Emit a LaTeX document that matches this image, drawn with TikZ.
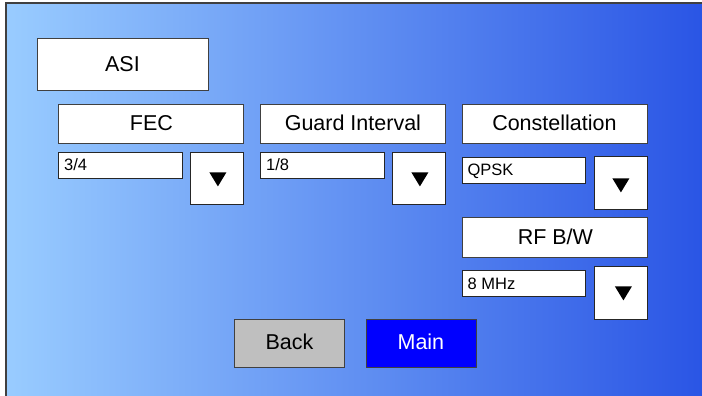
\documentclass[tikz,border=0pt]{standalone}
\usepackage{fontspec}
\setmainfont{Liberation Sans}
\definecolor{gradL}{HTML}{99CCFF}
\definecolor{gradR}{HTML}{2A55E5}
\definecolor{edge}{HTML}{404040}
\tikzset{
 x=1pt,y=-1pt,
 panel/.style={draw=edge,line width=1pt,fill=white},
 small/.style={draw=black!85,line width=1pt,fill=white},
 bigtext/.style={inner sep=0pt,anchor=base,font=\fontsize{21.5}{24}\selectfont},
 smalltext/.style={inner sep=0pt,anchor=base west,font=\fontsize{16.5}{18}\selectfont},
 arrowtri/.style={fill=black,draw=none},
}
\begin{document}
\begin{tikzpicture}
\useasboundingbox (0,0) rectangle (702,396);
\fill[white] (0,0) rectangle (702,396);
\shade[left color=gradL,right color=gradR,draw=none] (6,3) rectangle (702,396);
\draw[edge,line width=1.25pt] (702,3) -- (6,3) -- (6,396);
\begin{scope}[shift={(0.4,0.4)}]
\path[panel] (37,38) rectangle (208,90); \node[bigtext] (asi) at (122,71) {ASI};
\path[panel] (58,104) rectangle (243,143); \node[bigtext] (fec) at (151,130) {FEC};
\path[panel] (260,104) rectangle (445,143); \node[bigtext] (gi) at (352.5,130) {Guard Interval};
\path[panel] (462,104) rectangle (647,143); \node[bigtext] (con) at (554,130) {Constellation};
\path[panel] (462,217) rectangle (647,257); \node[bigtext] (rf) at (555,244) {RF B/W};
\path[small] (58,152) rectangle (182,178); \node[smalltext] (a) at (63.5,170) {3/4};
\path[small] (260,152) rectangle (384,178); \node[smalltext] (b) at (265.5,170) {1/8};
\path[small] (462,157) rectangle (585,183); \node[smalltext] (c) at (467,175) {QPSK};
\path[small] (462,270) rectangle (585,296); \node[smalltext] (d) at (467,289) {8 MHz};
\path[small] (190,152) rectangle (243,204); \fill[arrowtri] (209,172) -- (226,172) -- (217.5,186) -- cycle;
\path[small] (392,152) rectangle (445,204); \fill[arrowtri] (411,172) -- (428,172) -- (419.5,186) -- cycle;
\path[small] (594,156) rectangle (647,209); \fill[arrowtri] (612,178) -- (629,178) -- (620.5,192) -- cycle;
\path[small] (594,266) rectangle (647,319); \fill[arrowtri] (614.5,286) -- (631.5,286) -- (623,300) -- cycle;
\path[panel,fill=black!25] (234,319) rectangle (344,367);
\node[bigtext] (back) at (289,349) {Back};
\path[panel,fill=blue] (366,319) rectangle (476,367);
\node[bigtext,text=white] (main) at (420.5,349) {Main};
\end{scope}
\end{tikzpicture}
\end{document}
